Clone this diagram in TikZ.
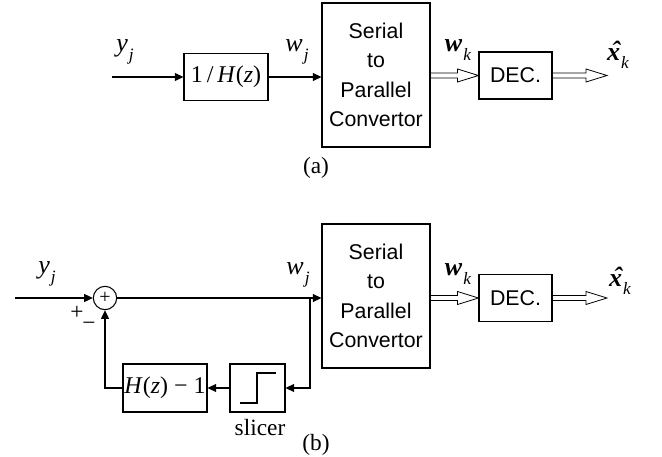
\documentclass[tikz,border=0pt]{standalone}
\usepackage{fontspec}
\setmainfont{Liberation Serif}
\newfontfamily\arial{Liberation Sans}
\usetikzlibrary{arrows.meta,calc}
\newcommand\mysub[2]{#1\kern0.04em\raisebox{-0.32em}{\fontsize{13}{13}\selectfont\itshape #2}}
\newcommand\xhat{\textbf{\textit{\rlap{\kern0.16em\raisebox{0.02em}{ˆ}}x}}}
\newcommand\dblarrow[2]{\draw[line width=0.6pt, line join=miter]
  ($(#1)+(0,-2.5)$) -- ($(#2)+(-21,-2.5)$) -- ($(#2)+(-21,-6.5)$) -- (#2)
  -- ($(#2)+(-21,6.5)$) -- ($(#2)+(-21,2.5)$) -- ($(#1)+(0,2.5)$);}
\begin{document}
\begin{tikzpicture}[x=0.75pt,y=-0.75pt,
  box/.style={draw, line width=0.8pt, inner sep=0pt},
  sans/.style={font=\arial\fontsize{16}{22}\selectfont, align=center},
  mth/.style={font=\fontsize{18}{20}\selectfont},
  mlab/.style={font=\fontsize{19.5}{20}\selectfont},
  lbl/.style={font=\fontsize{17.5}{20}\selectfont},
  ln/.style={line width=0.8pt},
  arr/.style={line width=0.8pt, -{Triangle[length=6.5pt,width=6pt]}}]
\useasboundingbox (0,0) rectangle (662,457);

% ---------------- (a) ----------------
\coordinate (ain) at (112,77);
\node[box, mth, minimum width=63pt, minimum height=35.25pt] (hinv) at (226,77)
  {1\,/\,\textit{H}(\textit{z})};
\node[box, sans, minimum width=81pt, minimum height=108pt] (sera) at (376,75)
  {Serial\\to\\Parallel\\Convertor};
\node[box, sans, minimum width=54.75pt, minimum height=35.25pt] (deca) at (515.5,75.5) {DEC.};
\coordinate (aout) at (607,75.5);

\draw[arr] (ain) -- (hinv.west);
\draw[arr] (hinv.east) -- (hinv.east -| sera.west);
\dblarrow{sera.east |- deca.west}{deca.west}
\dblarrow{deca.east}{aout}

\node[mlab] (ayj) at (125,52) {\mysub{\textit{y}}{j}};
\node[mlab] (awj) at (297,52) {\mysub{\textit{w}}{j}};
\node[mlab] (awk) at (458,50) {\mysub{\textbf{\textit{w}}}{k}};
\node[mlab] (axk) at (618,55) {\mysub{\xhat}{k}};
\node[lbl] (capa) at (316,168) {(a)};

% ---------------- (b) ----------------
\coordinate (bin) at (15,298);
\node[draw, circle, line width=0.8pt, minimum size=17.5pt, inner sep=0pt,
  font=\fontsize{15}{15}\selectfont] (sum) at (105,298) {+};
\node[box, sans, minimum width=81pt, minimum height=108pt] (serb) at (376,296)
  {Serial\\to\\Parallel\\Convertor};
\node[box, sans, minimum width=54.75pt, minimum height=35.25pt] (decb) at (515.5,298) {DEC.};
\coordinate (bout) at (607,298);
\node[box, minimum width=41.25pt, minimum height=36pt] (slic) at (257.5,388) {};
\node[box, mth, minimum width=63pt, minimum height=36pt] (hm1) at (165,388)
  {\textit{H}(\textit{z}) − 1};
\coordinate (br) at (310,298);

\draw[ln] ($(slic.center)+(-17.5,15)$) -- ($(slic.center)+(-0.5,15)$)
  -- ($(slic.center)+(-0.5,-15)$) -- ($(slic.center)+(18.5,-15)$);

\draw[arr] (bin) -- (sum.west);
\draw[arr] (sum.east) -- (sum.east -| serb.west);
\draw[arr] (br) |- (slic.east);
\draw[arr] (slic.west) -- (hm1.east);
\draw[arr] (hm1.west) -| (sum.south);
\dblarrow{serb.east |- decb.west}{decb.west}
\dblarrow{decb.east}{bout}

\node[mlab] (byj) at (47,274) {\mysub{\textit{y}}{j}};
\node[mlab] (bwj) at (298,275) {\mysub{\textit{w}}{j}};
\node[mlab] (bwk) at (458,274) {\mysub{\textbf{\textit{w}}}{k}};
\node[mlab] (bxk) at (620,281) {\mysub{\xhat}{k}};
\node[lbl] (plus) at (77,313) {+};
\node[lbl] (minus) at (89,326) {−};
\node[lbl] (slab) at (260,428) {slicer};
\node[lbl] (capb) at (316,445) {(b)};
\end{tikzpicture}
\end{document}
